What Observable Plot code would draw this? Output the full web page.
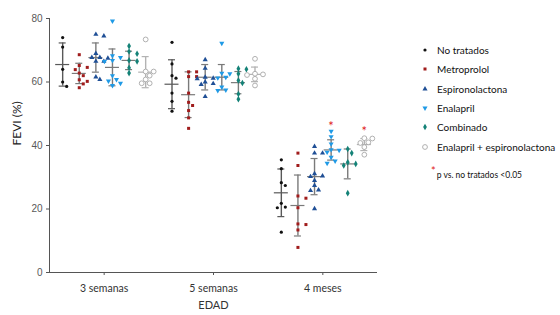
<!DOCTYPE html>
<html><head><meta charset="utf-8">
<script src="https://cdn.jsdelivr.net/npm/d3@7"></script>
<script src="https://cdn.jsdelivr.net/npm/@observablehq/plot@0.6"></script>
<style>
body{margin:0;background:#fff;}
#wrap{position:relative;width:560px;height:315px;font-family:Lato,"Open Sans",sans-serif;}
#wrap svg.main{position:absolute;left:0;top:0;}
.item{position:absolute;left:420px;height:14px;line-height:14px;font-size:10px;color:#111;white-space:nowrap;}
.item svg{position:absolute;left:0;top:2px;}
.item span{position:absolute;left:17px;top:0;}
#note{position:absolute;left:431px;top:167px;font-size:8.5px;color:#111;white-space:nowrap;}
#note b{color:#e02020;font-weight:normal;font-size:11px;position:relative;top:-3px;margin-right:1px;}
</style></head>
<body><div id="wrap"></div>
<script>
const groups = ["3 semanas", "5 semanas", "4 meses"];
const treatments = ["No tratados", "Metroprolol", "Espironolactona", "Enalapril", "Combinado", "Enalapril + espironolactona"];
const colors = ["#111111", "#a01c1c", "#1f4f96", "#1f9ae6", "#148277", "#a8a8a8"];
const xTitle = ["EDAD"];
const yTitle = ["FEVI (%)"];

// individual FEVI values per group (3 semanas, 5 semanas, 4 meses)
const noTratados = [
  [74, 71, 64, 60, 58.6],
  [72.5, 65.7, 62, 61.2, 56.5, 53.9, 50.8],
  [35.5, 32.7, 28.3, 27.4, 21.8, 20.6, 20.4, 12.7]
];
const metroprolol = [
  [68.6, 65.2, 64.6, 63.9, 62.8, 62, 60.7, 60.2, 59.4, 58.2],
  [63.2, 63.2, 61.7, 61.7, 56.5, 53.6, 52.6, 51, 48.7, 45.4],
  [37.6, 33.7, 24.1, 23.4, 20.4, 15.3, 15.1, 13.4, 7.9]
];
const espironolactona = [
  [75, 74.5, 69, 67.7, 67.7, 67.5, 66.5, 66.5, 61.6, 60.8],
  [67, 64.3, 61.5, 61.2, 61, 60, 59.5, 59.2, 55.4],
  [39.7, 37.6, 37.6, 31.1, 30.4, 30.2, 29, 27.4, 26, 25.8, 20.1]
];
const enalapril = [
  [79.2, 68.3, 67.7, 66.8, 66.5, 62, 60.8, 60.3, 59.6, 58.9],
  [72.2, 62.8, 62.6, 61.5, 61.3, 58.4, 57.5, 57.3],
  [44.5, 42.8, 40.5, 38.7, 38.5, 37.9, 36.3, 35.1, 34.4]
];
const combinado = [
  [71.3, 69.6, 68.9, 66.8, 66.5, 64.5, 62.8],
  [64.2, 64, 62.6, 60.5, 59.7, 56.2, 54.6],
  [38.9, 37.6, 34.7, 34.2, 33.7, 25]
];
const enalEspiro = [
  [73.4, 63.3, 63.3, 62, 60.8, 59.6, 59.6],
  [67.3, 62.6, 62.4, 62.2, 61, 58.9],
  [42.3, 42.2, 41, 40.8, 39.5, 37.1]
];
// mean and SD per treatment (rows) and group (columns)
const means = [
  [65.5, 59.3, 25.1],
  [62.7, 56.0, 21.1],
  [67.7, 61.5, 30.2],
  [64.6, 61.5, 38.6],
  [66.8, 59.8, 34.2],
  [63.1, 62.4, 40.3]
];
const sds = [
  [6.8, 7.7, 7.5],
  [3.2, 7.2, 9.6],
  [4.6, 4.0, 5.7],
  [5.8, 4.0, 3.2],
  [2.9, 3.5, 4.7],
  [4.9, 2.3, 1.9]
];
// significance markers (p vs. no tratados < 0.05)
const sigGroup = [2, 2];
const sigTreatment = [3, 5];
const sigValue = [46.8, 45.2];
const yTicks = [0, 20, 40, 60, 80];

const series = [noTratados, metroprolol, espironolactona, enalapril, combinado, enalEspiro];

// layout constants
const W = 560, H = 315, mL = 49, mR = 183, mT = 18, mB = 43;
const pxPerUnit = (W - mL - mR) / 3;
const slot = 16.6 / pxPerUnit;
const yPx = d3.scaleLinear([0, 80], [H - mB, mT]);
const xPos = (g, t) => g + (t - 2.5) * slot;

// simple beeswarm: spread overlapping points horizontally
function swarm(vals) {
  const placed = [];
  const off = new Array(vals.length);
  const order = vals.map((v, i) => i).sort((a, b) => vals[b] - vals[a]);
  for (const i of order) {
    const py = yPx(vals[i]);
    for (const k of [0, 1, -1, 2, -2, 3, -3, 4, -4]) {
      const px = k * 4;
      if (placed.every(p => Math.hypot(p[0] - px, p[1] - py) >= 4.6)) {
        off[i] = px; placed.push([px, py]); break;
      }
    }
  }
  return off;
}

const points = [];
series.forEach((s, t) => s.forEach((vals, g) => {
  const off = swarm(vals);
  vals.forEach((v, i) => points.push({t, g, v, x: xPos(g, t) + off[i] / pxPerUnit}));
}));
const stats = [];
means.forEach((row, t) => row.forEach((m, g) => stats.push({t, g, m, sd: sds[t][g], x: xPos(g, t)})));
const sig = sigGroup.map((g, i) => ({x: xPos(g, sigTreatment[i]), v: sigValue[i]}));

const triDown = {draw(ctx, size) {
  const s = Math.sqrt(size * 4 / Math.sqrt(3));
  const h = s * Math.sqrt(3) / 2;
  ctx.moveTo(-s / 2, -h / 3); ctx.lineTo(s / 2, -h / 3); ctx.lineTo(0, 2 * h / 3); ctx.closePath();
}};
const symbols = ["circle", "square", "triangle", triDown, "diamond", "circle"];
const radii = [1.6, 1.7, 1.9, 1.9, 2.0, 2.4];
const barColors = ["#595959", "#7a7a7a", "#7a7a7a", "#7a7a7a", "#7a7a7a", "#b3b3b3"];

const cap = 3.5 / pxPerUnit, half = 7 / pxPerUnit;

const dotMarks = treatments.map((name, t) => Plot.dot(points.filter(d => d.t === t), {
  x: "x", y: "v", symbol: () => symbols[t], r: radii[t],
  fill: t === 5 ? "white" : colors[t],
  stroke: t === 5 ? colors[t] : "none",
  strokeWidth: 0.9
}));

const chart = Plot.plot({
  width: W, height: H,
  marginLeft: mL, marginRight: mR, marginTop: mT, marginBottom: mB,
  style: {fontFamily: "Lato, 'Open Sans', sans-serif", background: "white"},
  x: {type: "linear", domain: [-0.5, 2.5]},
  y: {domain: [0, 80]},
  symbol: {type: "identity"},
  marks: [
    Plot.axisY({ticks: yTicks, tickSize: 3, tickPadding: 4, fontSize: 10, color: "#595959", stroke: "#555",
      fontFamily: "'Liberation Sans', Arial, sans-serif", label: null}),
    Plot.axisX({ticks: [0, 1, 2], tickFormat: i => groups[i], tickSize: 3, tickPadding: 9,
      fontSize: 10.5, color: "#333", stroke: "#555", label: null}),
    Plot.text(xTitle, {text: d => d, frameAnchor: "bottom", dy: 36, fontSize: 11, fill: "#333"}),
    Plot.text(yTitle, {text: d => d, frameAnchor: "left", dx: -32, rotate: -90, fontSize: 12, fill: "#222"}),
    Plot.ruleY([0], {stroke: "#555", strokeWidth: 1}),
    Plot.ruleX([-0.5], {y1: 0, y2: 80, stroke: "#555", strokeWidth: 1}),
    Plot.ruleX(stats, {x: "x", y1: d => d.m - d.sd, y2: d => d.m + d.sd, stroke: d => barColors[d.t], strokeWidth: 1.4}),
    Plot.ruleY(stats, {y: d => d.m + d.sd, x1: d => d.x - cap, x2: d => d.x + cap, stroke: d => barColors[d.t], strokeWidth: 1.2}),
    Plot.ruleY(stats, {y: d => d.m - d.sd, x1: d => d.x - cap, x2: d => d.x + cap, stroke: d => barColors[d.t], strokeWidth: 1.2}),
    Plot.ruleY(stats, {y: "m", x1: d => d.x - half, x2: d => d.x + half, stroke: d => barColors[d.t], strokeWidth: 1.2}),
    ...dotMarks,
    Plot.text(sig, {x: "x", y: "v", text: () => "*", fill: "#e02020", fontSize: 13, dy: 3})
  ]
});
chart.classList.add("main");
const wrap = document.getElementById("wrap");
wrap.appendChild(chart);

// legend
treatments.forEach((name, t) => {
  const div = document.createElement("div");
  div.className = "item";
  div.style.top = (43 + t * 19.3) + "px";
  const sym = typeof symbols[t] === "string" ? {circle: d3.symbolCircle, square: d3.symbolSquare, triangle: d3.symbolTriangle, diamond: d3.symbolDiamond}[symbols[t]] : symbols[t];
  const path = d3.symbol(sym, Math.PI * radii[t] * radii[t])();
  const fill = t === 5 ? "white" : colors[t];
  const stroke = t === 5 ? colors[t] : "none";
  div.innerHTML = `<svg width="10" height="10" viewBox="-5 -5 10 10"><path d="${path}" fill="${fill}" stroke="${stroke}" stroke-width="0.9"/></svg><span>${name}</span>`;
  wrap.appendChild(div);
});
const note = document.createElement("div");
note.id = "note";
note.innerHTML = "<b>*</b>p vs. no tratados &lt;0.05";
wrap.appendChild(note);
</script>
</body></html>
